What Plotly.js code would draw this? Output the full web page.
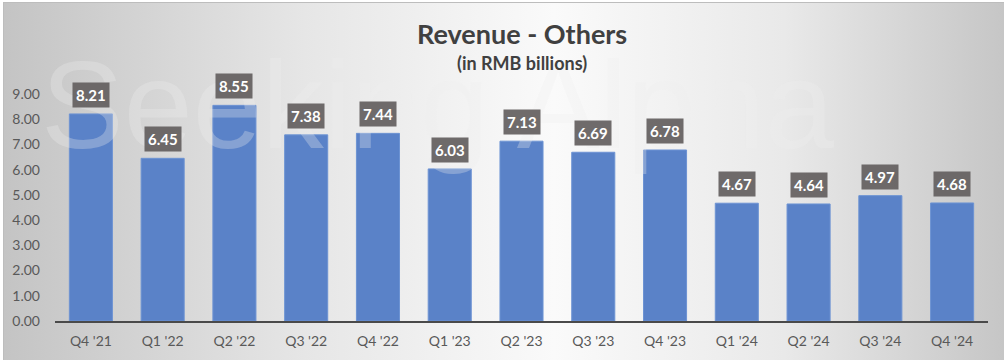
<!DOCTYPE html>
<html>
<head>
<meta charset="utf-8">
<script src="https://cdn.plot.ly/plotly-3.0.1.min.js"></script>
<style>
  html, body { margin: 0; padding: 0; background: #ffffff; width: 1005px; height: 360px; overflow: hidden; }
  #bg { position: absolute; left: 3px; top: 2px; width: 1000px; height: 358px;
        border-top: 1px solid #bdbdbd; border-left: 1px solid #bdbdbd;
        background: linear-gradient(to right, #c4c4c4 0%, #e6e6e6 30%, #fafafa 55%, #e9e9e9 78%, #c6c6c6 100%); }
  #chart { position: absolute; left: 0; top: 0; width: 1005px; height: 360px; }
</style>
</head>
<body>
<div id="bg"></div>
<div id="chart"></div>
<script>
const categories = ["Q4 '21", "Q1 '22", "Q2 '22", "Q3 '22", "Q4 '22", "Q1 '23", "Q2 '23", "Q3 '23", "Q4 '23", "Q1 '24", "Q2 '24", "Q3 '24", "Q4 '24"];
const revenue = [8.21, 6.45, 8.55, 7.38, 7.44, 6.03, 7.13, 6.69, 6.78, 4.67, 4.64, 4.97, 4.68];
const yTicks = [0, 1, 2, 3, 4, 5, 6, 7, 8, 9];

const font = "Lato, 'Open Sans', 'Liberation Sans', sans-serif";

const trace = {
  type: 'bar',
  x: categories,
  y: revenue,
  width: 0.6,
  marker: { color: '#5a82c8', line: { color: '#6d93d3', width: 1 } },
  hoverinfo: 'x+y'
};

const labels = categories.map((c, i) => ({
  x: c, y: revenue[i], xref: 'x', yref: 'y',
  text: '<b>' + revenue[i].toFixed(2) + '</b>',
  showarrow: false, yanchor: 'bottom', yshift: 6,
  bgcolor: 'rgba(100,96,96,0.93)', borderpad: 3,
  font: { family: font, size: 15, color: '#ffffff' }
}));

const layout = {
  width: 1005, height: 360,
  margin: { l: 55, r: 17, t: 94, b: 39 },
  paper_bgcolor: 'rgba(0,0,0,0)',
  plot_bgcolor: 'rgba(0,0,0,0)',
  showlegend: false,
  bargap: 0.4,
  xaxis: {
    type: 'category',
    showgrid: false, zeroline: false,
    showline: true, linecolor: '#4a4a4a', linewidth: 2,
    ticks: '', ticklabelstandoff: 6,
    tickfont: { family: font, size: 14, color: '#595959' }
  },
  yaxis: {
    range: [0, 9], tickvals: yTicks, tickformat: '.2f',
    showgrid: false, zeroline: false, showline: false,
    ticks: '', ticklabelstandoff: 14,
    tickfont: { family: font, size: 14, color: '#595959' }
  },
  annotations: [
    { xref: 'paper', yref: 'paper', x: 0.41, y: 0.95, text: 'Seeking Alpha',
      showarrow: false, xanchor: 'center', yanchor: 'middle',
      font: { family: "'Liberation Sans', Arial, sans-serif", size: 124, color: 'rgba(238,238,238,0.3)' } },
    { xref: 'paper', yref: 'paper', x: 0.5, y: 1.0, text: '<b>Revenue - Others</b>',
      showarrow: false, xanchor: 'center', yanchor: 'bottom', yshift: 42,
      font: { family: font, size: 27, color: '#404040' } },
    { xref: 'paper', yref: 'paper', x: 0.5, y: 1.0, text: '<b>(in RMB billions)</b>',
      showarrow: false, xanchor: 'center', yanchor: 'bottom', yshift: 18,
      font: { family: font, size: 18, color: '#404040' } }
  ].concat(labels)
};

Plotly.newPlot('chart', [trace], layout, { displayModeBar: false, staticPlot: true });
</script>
</body>
</html>
